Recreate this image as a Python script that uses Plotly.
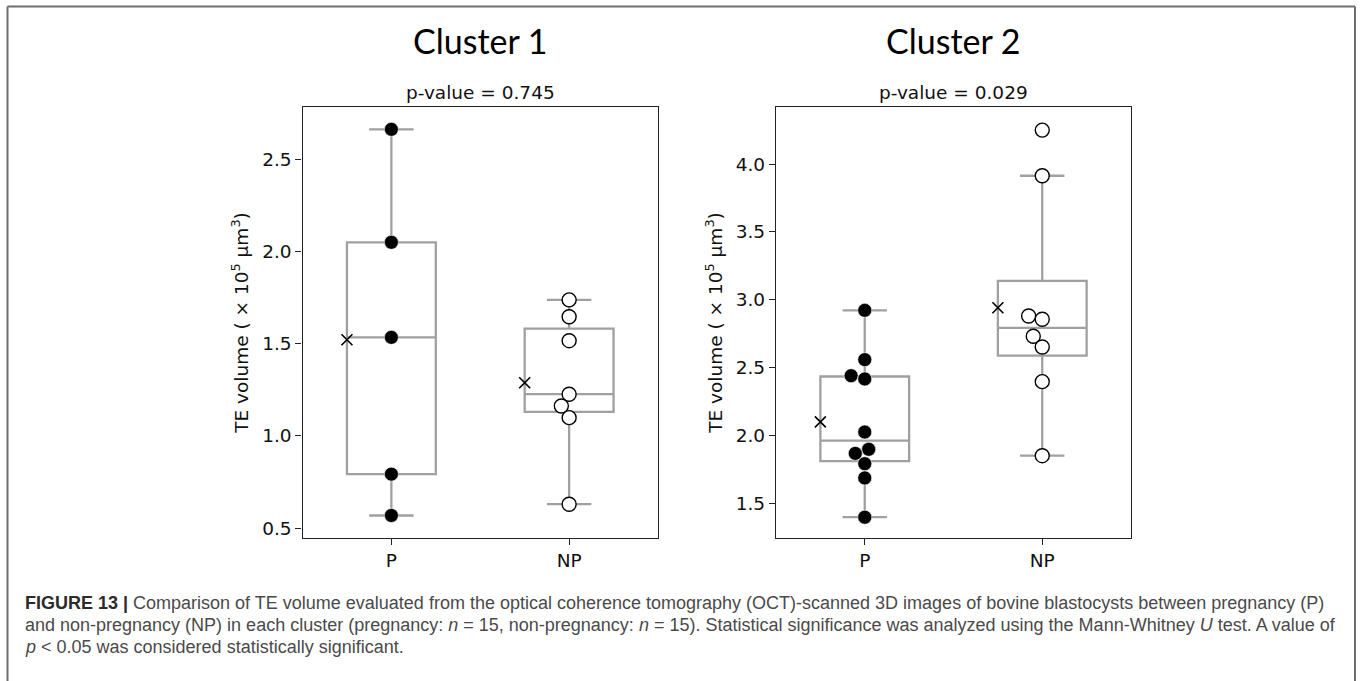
import numpy as np
import plotly.graph_objects as go

# ---- data -------------------------------------------------------------
groups = ["P", "NP"]
cluster_titles = ["Cluster 1", "Cluster 2"]
p_values = ["0.745", "0.029"]

# TE volume (x 10^5 um^3) per blastocyst
c1_p = [2.661, 2.049, 1.534, 0.793, 0.569]
c1_np = [1.737, 1.646, 1.516, 1.226, 1.162, 1.099, 0.630]
c2_p = [2.923, 2.560, 2.442, 2.418, 2.027, 1.900, 1.870, 1.794, 1.689, 1.400]
c2_np = [4.250, 3.914, 2.881, 2.857, 2.732, 2.653, 2.398, 1.853]

y_ticks_c1 = [0.5, 1.0, 1.5, 2.0, 2.5]
y_ticks_c2 = [1.5, 2.0, 2.5, 3.0, 3.5, 4.0]

# ---- layout constants ---------------------------------------------------
W, H = 1360, 681
PANEL_X = [(302.5, 658.0), (776.0, 1131.0)]   # px
PANEL_Y = (107.0, 538.0)                      # px (top, bottom)
Y_RANGES = [(0.447, 2.782), (1.247, 4.42)]
X_RANGE = (-0.5, 1.5)
BOX_W = 0.5
DOT = 14.0
BOX_COLOR = "#a0a0a0"
TXT = "#111111"
AX_FONT = "DejaVu Sans"


def px_x(x):
    return x / W


def px_y(y):
    return (H - y) / H


def box_stats(vals):
    v = np.asarray(vals, dtype=float)
    q1, med, q3 = np.percentile(v, [25, 50, 75])
    iqr = q3 - q1
    lo = v[v >= q1 - 1.5 * iqr].min()
    hi = v[v <= q3 + 1.5 * iqr].max()
    return q1, med, q3, lo, hi


def swarm(vals, ppu_x, ppu_y, d=DOT):
    """Beeswarm layout: returns horizontal offsets in data units."""
    v = np.asarray(vals, dtype=float)
    order = np.argsort(v, kind="stable")
    placed = []
    off = np.zeros(len(v))
    for i in order:
        y = v[i] * ppu_y
        near = [(px, py) for px, py in placed if abs(py - y) < d]
        lefts, rights = [], []
        for px, py in near:
            dx = np.sqrt(d * d - (py - y) ** 2)
            lefts.append(px - dx)
            rights.append(px + dx)
        cands = [0.0] + lefts + rights
        cands = sorted(cands, key=lambda c: abs(c))
        chosen = 0.0
        for c in cands:
            if all((c - px) ** 2 + (y - py) ** 2 >= d * d - 1e-6 for px, py in near):
                chosen = c
                break
        placed.append((chosen, y))
        off[i] = chosen / ppu_x
    return off


fig = go.Figure()

clusters = [(c1_p, c1_np), (c2_p, c2_np)]
tick_sets = [y_ticks_c1, y_ticks_c2]

for k, (p_vals, np_vals) in enumerate(clusters):
    xa = "x" if k == 0 else "x2"
    ya = "y" if k == 0 else "y2"
    ppu_x = (PANEL_X[k][1] - PANEL_X[k][0]) / (X_RANGE[1] - X_RANGE[0])
    ppu_y = (PANEL_Y[1] - PANEL_Y[0]) / (Y_RANGES[k][1] - Y_RANGES[k][0])

    for gi, vals in enumerate([p_vals, np_vals]):
        q1, med, q3, lo, hi = box_stats(vals)
        fig.add_trace(go.Box(
            x=[gi], q1=[q1], median=[med], q3=[q3],
            lowerfence=[lo], upperfence=[hi],
            width=BOX_W, whiskerwidth=0.5, boxpoints=False,
            fillcolor="rgba(255,255,255,0)",
            line=dict(color=BOX_COLOR, width=2.3),
            xaxis=xa, yaxis=ya, showlegend=False, hoverinfo="skip",
        ))

    for gi, vals in enumerate([p_vals, np_vals]):
        offs = swarm(vals, ppu_x, ppu_y)
        filled = gi == 0
        fig.add_trace(go.Scatter(
            x=gi + offs, y=vals, mode="markers",
            marker=dict(
                size=DOT,
                color="black" if filled else "white",
                line=dict(color="white" if filled else "black",
                          width=0.6 if filled else 1.4),
            ),
            xaxis=xa, yaxis=ya, showlegend=False, hoverinfo="skip",
        ))
        # group mean, drawn at the left edge of the box
        fig.add_trace(go.Scatter(
            x=[gi - BOX_W / 2], y=[float(np.mean(vals))], mode="markers",
            marker=dict(symbol="x-thin", size=11,
                        line=dict(color="black", width=1.6)),
            xaxis=xa, yaxis=ya, showlegend=False, hoverinfo="skip",
        ))

axis_common = dict(
    showgrid=False, zeroline=False, showline=True, mirror=True,
    linecolor="#222222", linewidth=1.3, ticks="outside", ticklen=6,
    tickwidth=1.3, tickcolor="#222222",
    tickfont=dict(family=AX_FONT, size=18.5, color=TXT),
)

y_title = "TE volume ( \u00d7 10<sup>5</sup> \u03bcm<sup>3</sup>)"

layout = dict(
    width=W, height=H,
    margin=dict(l=0, r=0, t=0, b=0),
    paper_bgcolor="white", plot_bgcolor="white",
    showlegend=False,
)
for k in range(2):
    sx = "" if k == 0 else "2"
    layout["xaxis" + sx] = dict(
        axis_common,
        domain=[px_x(PANEL_X[k][0]), px_x(PANEL_X[k][1])],
        range=list(X_RANGE), tickmode="array", tickvals=[0, 1],
        ticktext=groups, anchor="y" + sx,
    )
    layout["yaxis" + sx] = dict(
        axis_common,
        domain=[px_y(PANEL_Y[1]), px_y(PANEL_Y[0])],
        range=list(Y_RANGES[k]), tickmode="array", tickvals=tick_sets[k],
        tickformat=".1f", anchor="x" + sx,
        title=dict(text=y_title, standoff=8,
                   font=dict(family=AX_FONT, size=18.5, color=TXT)),
    )
fig.update_layout(**layout)

annotations = []
for k in range(2):
    cx = px_x((PANEL_X[k][0] + PANEL_X[k][1]) / 2)
    annotations.append(dict(
        x=cx, y=px_y(40), xref="paper", yref="paper", showarrow=False,
        text=cluster_titles[k], xanchor="center", yanchor="middle",
        font=dict(family="Lato", size=34, color="#000000"),
    ))
    annotations.append(dict(
        x=cx, y=px_y(92), xref="paper", yref="paper", showarrow=False,
        text="p-value = " + p_values[k], xanchor="center", yanchor="middle",
        font=dict(family=AX_FONT, size=18.5, color=TXT),
    ))

caption_lines = [
    "<span style='color:#2b2b2b'><b>FIGURE 13 |</b></span> Comparison of TE volume "
    "evaluated from the optical coherence tomography (OCT)-scanned 3D images of "
    "bovine blastocysts between pregnancy (P)",
    "and non-pregnancy (NP) in each cluster (pregnancy: <i>n</i> = 15, non-pregnancy: "
    "<i>n</i> = 15). Statistical significance was analyzed using the Mann-Whitney "
    "<i>U</i> test. A value of",
    "<i>p</i> &lt; 0.05 was considered statistically significant.",
]
cap_y = [603, 625, 647]
for line, yy in zip(caption_lines, cap_y):
    annotations.append(dict(
        x=px_x(22.5), y=px_y(yy), xref="paper", yref="paper", showarrow=False,
        text=line, xanchor="left", yanchor="middle", align="left",
        font=dict(family="Liberation Sans", size=18, color="#4a4a4a"),
    ))
fig.update_layout(annotations=annotations)

# figure frame (open at the bottom)
frame = dict(color="#6e6e6e", width=2)
fig.add_shape(type="line", xref="paper", yref="paper",
              x0=px_x(7.5), x1=px_x(1355), y0=px_y(6.5), y1=px_y(6.5), line=frame)
fig.add_shape(type="line", xref="paper", yref="paper",
              x0=px_x(7.5), x1=px_x(7.5), y0=px_y(6.5), y1=0, line=frame)
fig.add_shape(type="line", xref="paper", yref="paper",
              x0=px_x(1355), x1=px_x(1355), y0=px_y(6.5), y1=0, line=frame)

fig.write_html("out.html")
